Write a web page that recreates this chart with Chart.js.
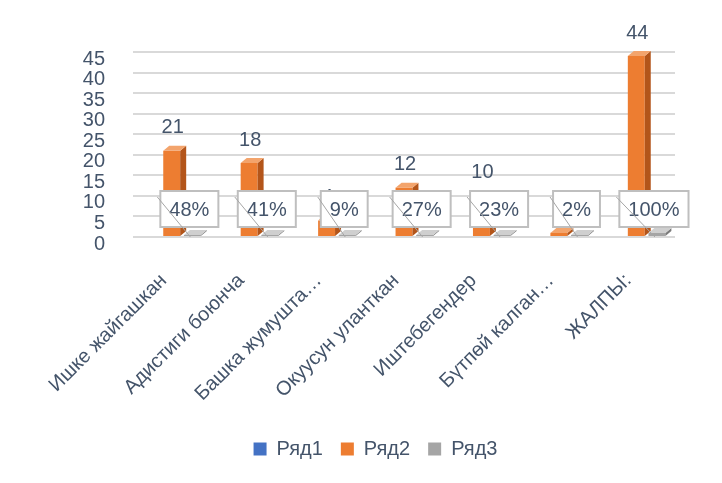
<!DOCTYPE html>
<html>
<head>
<meta charset="utf-8">
<script src="https://cdn.jsdelivr.net/npm/chart.js@4.4.0/dist/chart.umd.min.js"></script>
<style>
  html, body { margin: 0; padding: 0; background: #fff; }
</style>
</head>
<body>
<canvas id="chart" width="722" height="483"></canvas>
<script>
// Chart data
const categories = ['Ишке жайгашкан', 'Адистиги боюнча', 'Башка жумушта…', 'Окуусун улантkан'.replace('k', 'к'), 'Иштебегендер', 'Бүтпөй калган…', 'ЖАЛПЫ:'];
const ryad1 = [0, 0, 0, 0, 0, 0, 0];
const ryad2 = [21, 18, 4, 12, 10, 1, 44];
const ryad3 = [0.48, 0.41, 0.09, 0.27, 0.23, 0.02, 1];
const yTicks = [0, 5, 10, 15, 20, 25, 30, 35, 40, 45];

const textColor = '#44546a';
const fontFamily = "'Liberation Sans', Arial, sans-serif";

// darker side + lighter top to fake the 3D columns
const faces = {
    1: { side: '#b3551a', top: '#f3a46c' },
    2: { side: '#7b7b7b', top: '#cfcfcf' }
};

const columns3d = {
    id: 'columns3d',
    afterLayout(chart) {
        // legend sits a bit right of the canvas centre in the original
        chart.legend.left += 38;
        chart.legend.right += 38;
    },
    afterDatasetsDraw(chart) {
        const ctx = chart.ctx;
        const d = 6, dy = 5;
        [1, 2].forEach(i => {
            const meta = chart.getDatasetMeta(i);
            meta.data.forEach(bar => {
                const left = bar.x - bar.width / 2;
                const right = bar.x + bar.width / 2;
                const top = bar.y;
                const base = bar.base;
                ctx.save();
                ctx.fillStyle = faces[i].side;
                ctx.beginPath();
                ctx.moveTo(right, top);
                ctx.lineTo(right + d, top - dy);
                ctx.lineTo(right + d, base - dy);
                ctx.lineTo(right, base);
                ctx.closePath();
                ctx.fill();
                ctx.fillStyle = faces[i].top;
                ctx.beginPath();
                ctx.moveTo(left, top);
                ctx.lineTo(left + d, top - dy);
                ctx.lineTo(right + d, top - dy);
                ctx.lineTo(right, top);
                ctx.closePath();
                ctx.fill();
                ctx.restore();
            });
        });
    },
    afterDraw(chart) {
        const ctx = chart.ctx;
        // Ряд2 value labels
        ctx.save();
        ctx.font = '20px ' + fontFamily;
        ctx.fillStyle = textColor;
        ctx.textAlign = 'center';
        ctx.textBaseline = 'middle';
        chart.getDatasetMeta(1).data.forEach((bar, i) => {
            ctx.fillText(String(ryad2[i]), bar.x + 1, bar.y - 23);
        });
        ctx.restore();

        // Ряд3 percent labels in boxes with leader line
        ctx.save();
        ctx.font = '20px ' + fontFamily;
        ctx.textBaseline = 'middle';
        ctx.textAlign = 'center';
        chart.getDatasetMeta(2).data.forEach((bar, i) => {
            const txt = Math.round(ryad3[i] * 100) + '%';
            const w = ctx.measureText(txt).width + 18;
            const h = 36;
            const cx = bar.x - 3;
            const cy = bar.base - 27;
            const bx = cx - w / 2, by = cy - h / 2;
            ctx.fillStyle = '#fff';
            ctx.fillRect(bx, by, w, h);
            ctx.strokeStyle = '#bfbfbf';
            ctx.lineWidth = 2;
            ctx.strokeRect(bx, by, w, h);
            ctx.fillStyle = textColor;
            ctx.fillText(txt, cx, cy + 1);
            ctx.strokeStyle = '#a6a6a6';
            ctx.lineWidth = 1;
            ctx.beginPath();
            ctx.moveTo(bx - 3, by + 6);
            ctx.lineTo(bar.x - 2, bar.base + 1);
            ctx.stroke();
        });
        ctx.restore();
    }
};

new Chart(document.getElementById('chart').getContext('2d'), {
    type: 'bar',
    data: {
        labels: categories,
        datasets: [
            { label: 'Ряд1', data: ryad1, backgroundColor: '#4472c4' },
            { label: 'Ряд2', data: ryad2, backgroundColor: '#ed7d31' },
            { label: 'Ряд3', data: ryad3, backgroundColor: '#a5a5a5', minBarLength: 2 }
        ]
    },
    options: {
        responsive: false,
        animation: false,
        devicePixelRatio: 1,
        layout: { padding: { top: 52, right: 47, bottom: 14, left: 0 } },
        datasets: { bar: { categoryPercentage: 0.8, barPercentage: 0.82 } },
        plugins: {
            legend: {
                position: 'bottom',
                labels: {
                    color: textColor,
                    font: { family: fontFamily, size: 20 },
                    boxWidth: 13,
                    boxHeight: 13,
                    padding: 18
                }
            },
            tooltip: { enabled: false }
        },
        scales: {
            x: {
                grid: { display: false, drawTicks: false },
                border: { display: false },
                afterFit: s => { s.height = 184; },
                ticks: {
                    color: textColor,
                    font: { family: fontFamily, size: 20 },
                    minRotation: 45,
                    maxRotation: 45,
                    autoSkip: false,
                    padding: 32,
                    labelOffset: -8
                }
            },
            y: {
                min: yTicks[0],
                max: yTicks[yTicks.length - 1],
                afterFit: s => { s.width = 133; },
                afterBuildTicks: s => { s.ticks = yTicks.map(v => ({ value: v })); },
                grid: { color: '#d9d9d9', lineWidth: 2, drawTicks: false },
                border: { display: false },
                ticks: {
                    color: textColor,
                    font: { family: fontFamily, size: 20 },
                    padding: 28,
                    autoSkip: false,
                    labelOffset: 7
                }
            }
        }
    },
    plugins: [columns3d]
});
</script>
</body>
</html>
